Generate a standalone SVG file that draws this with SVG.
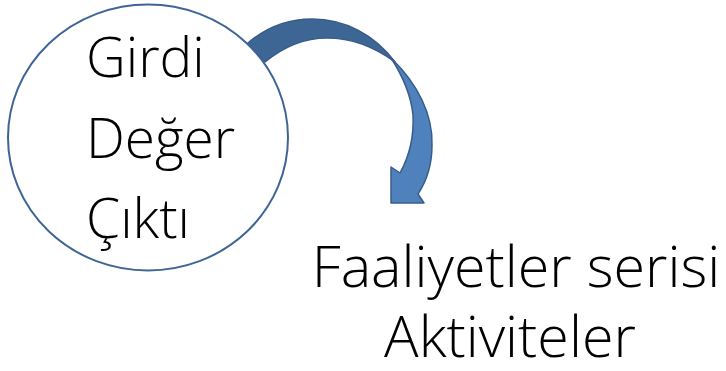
<svg xmlns="http://www.w3.org/2000/svg" width="726" height="371" viewBox="0 0 726 371">
<style>
.t{font-family:"Open Sans","Noto Sans",sans-serif;font-weight:300;fill:#000}
.c{font-size:55px}
.b{font-size:57.5px}
.dk{fill:#3D6694;stroke:#385D8A;stroke-width:1.5;stroke-linejoin:round}
.lt{fill:#4F81BD;stroke:#385D8A;stroke-width:1.5;stroke-linejoin:round}
</style>
<rect width="726" height="371" fill="#fff"/>
<g id="connectors">
<path class="dk" d="M248,43 C268,26 290,19 312,19 C345,19 375,35 395,62 C372,45 350,38 327,38 C303,38 282,48 265,62 Z"/>
<path class="lt" d="M391,58 C418,84 433,115 432,145 C432,165 426,182 418,194 L424,203 L391,203 L391,167 L400,173 C410,155 414,135 413,115 C411,95 404,78 391,58 Z"/>
</g>
<g id="circle">
<ellipse cx="148" cy="137.5" rx="140" ry="133" fill="#fff" stroke="#3F6596" stroke-width="2"/>
<text class="t c" x="86" y="77">Girdi</text>
<text class="t c" x="86" y="158">Değer</text>
<text class="t c" x="86" y="238">Çıktı</text>
</g>
<g id="activities">
<text class="t b" x="516" y="287" text-anchor="middle">Faaliyetler serisi</text>
<text class="t b" x="510" y="357" text-anchor="middle">Aktiviteler</text>
</g>
</svg>
